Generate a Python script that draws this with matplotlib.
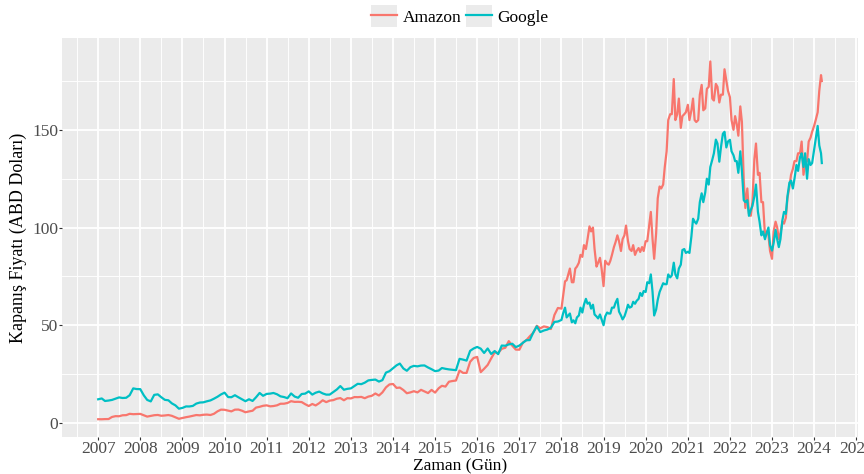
import numpy as np
import pandas as pd
import matplotlib
matplotlib.use('Agg')
import matplotlib.pyplot as plt
import matplotlib.dates as mdates
from matplotlib.legend_handler import HandlerLine2D
from matplotlib.patches import Rectangle

# tarih ekseni: 2007-2017 aylik, 2018 sonrasi ayda iki nokta
dates_monthly = pd.date_range('2007-01-01', '2017-12-01', freq='MS')
dates_semi = pd.date_range('2018-01-01', '2024-03-01', freq='SMS')
dates = dates_monthly.append(dates_semi).append(pd.DatetimeIndex(['2024-03-08']))

amazon_early = [
    1.9, 1.88, 1.96, 1.99, 3.06, 3.47, 3.42, 3.92, 3.99, 4.66, 4.47, 4.53,          # 2007
    4.63, 3.89, 3.24, 3.57, 3.94, 4.08, 3.67, 3.82, 4.04, 3.64, 2.87, 2.13,         # 2008
    2.56, 2.94, 3.24, 3.67, 4.04, 3.89, 4.18, 4.27, 4.06, 4.67, 5.94, 6.80,         # 2009
    6.73, 6.27, 5.91, 6.79, 6.85, 6.26, 5.46, 5.89, 6.24, 7.85, 8.25, 8.77,         # 2010
    9.00, 8.49, 8.64, 9.01, 9.82, 9.84, 10.22, 11.13, 10.77, 10.81, 10.67, 9.60,    # 2011
    8.66, 9.70, 8.95, 10.13, 11.60, 10.64, 11.42, 11.67, 12.40, 12.72, 11.60, 12.67,  # 2012
    12.54, 13.24, 13.19, 13.32, 12.65, 13.48, 13.88, 15.06, 14.03, 15.63, 18.20, 19.70,  # 2013
    19.94, 17.93, 18.10, 16.83, 15.20, 15.63, 16.24, 15.62, 16.94, 16.12, 15.28, 16.90,  # 2014
    15.52, 17.73, 19.01, 18.60, 21.09, 21.46, 21.70, 26.81, 25.60, 25.59, 31.29, 33.24,  # 2015
    33.79, 26.00, 27.70, 29.68, 32.98, 36.14, 35.78, 37.94, 38.46, 41.87, 39.49, 37.53,  # 2016
    37.49, 41.17, 42.25, 44.33, 46.13, 49.73, 48.40, 49.39, 49.04, 48.07, 55.26, 58.84,  # 2017
]
amazon_late = [
    58.5, 65.0, 72.5, 73.0, 76.0, 79.0, 72.0, 72.0, 79.0, 80.0, 82.0, 86.0,
    85.0, 91.0, 89.0, 94.0, 100.6, 98.0, 100.0, 89.0, 80.0, 82.0, 84.5, 79.0,       # 2018
    70.0, 83.0, 81.5, 81.0, 83.0, 86.0, 90.0, 92.5, 96.0, 93.0, 88.0, 94.0,
    96.0, 101.0, 93.0, 89.0, 88.0, 91.0, 86.0, 88.0, 89.5, 87.5, 90.0, 88.0,        # 2019
    93.0, 93.0, 101.0, 108.0, 94.0, 84.0, 97.0, 115.0, 121.0, 120.0, 122.0, 131.0,
    139.0, 155.0, 158.0, 158.0, 176.0, 155.0, 158.0, 166.0, 151.0, 157.0, 158.0, 159.0,  # 2020
    162.8, 155.0, 160.0, 166.0, 155.0, 154.0, 155.0, 168.0, 173.0, 160.0, 161.0, 171.0,
    172.0, 185.0, 166.0, 165.0, 173.5, 172.0, 164.0, 168.0, 168.0, 181.0, 175.0, 170.0,  # 2021
    166.7, 155.0, 150.0, 157.0, 153.0, 147.0, 162.0, 154.0, 124.0, 110.0, 120.0, 107.0,
    106.0, 113.0, 135.0, 143.0, 127.0, 128.0, 113.0, 113.0, 96.0, 98.0, 96.0, 88.0,    # 2022
    84.0, 98.0, 103.0, 100.0, 94.0, 97.0, 103.0, 102.0, 105.0, 115.0, 121.0, 127.0,
    130.0, 134.0, 134.0, 138.0, 138.0, 144.0, 127.0, 133.0, 134.0, 144.0, 146.0, 149.0,  # 2023
    152.0, 155.0, 159.0, 170.0, 178.0, 175.0,                                          # 2024
]

google_early = [
    12.1, 12.53, 11.23, 11.46, 11.78, 12.42, 13.06, 12.76, 12.88, 14.18, 17.68, 17.33,   # 2007
    17.29, 14.10, 11.78, 11.01, 14.35, 14.63, 13.16, 11.83, 11.58, 10.01, 8.98, 7.30,    # 2008
    7.69, 8.45, 8.42, 8.71, 9.90, 10.44, 10.54, 11.08, 11.53, 12.40, 13.41, 14.58,       # 2009
    15.50, 13.24, 13.16, 14.18, 13.13, 12.13, 11.12, 12.11, 11.25, 13.13, 15.34, 13.89,  # 2010
    14.85, 15.01, 15.33, 14.67, 13.61, 13.24, 12.66, 15.08, 13.50, 12.88, 14.81, 14.99,  # 2011
    16.15, 14.50, 15.46, 16.03, 15.11, 14.49, 14.50, 15.79, 17.13, 18.86, 17.00, 17.44,  # 2012
    17.69, 18.88, 20.02, 19.85, 20.61, 21.77, 22.01, 22.19, 21.16, 21.90, 25.77, 26.48,  # 2013
    28.02, 29.49, 30.38, 27.87, 26.70, 28.56, 29.20, 28.96, 29.36, 29.42, 28.38, 27.50,  # 2014
    26.50, 26.80, 28.10, 27.70, 27.40, 27.20, 27.00, 32.80, 32.40, 31.90, 36.90, 38.10,  # 2015
    38.90, 38.00, 35.80, 38.10, 35.30, 36.80, 35.20, 39.60, 39.50, 40.20, 40.50, 38.80,  # 2016
    39.60, 41.00, 42.30, 42.40, 46.20, 49.40, 46.50, 47.30, 47.80, 48.70, 51.70, 51.90,  # 2017
]
google_late = [
    52.7, 56.0, 59.0, 54.0, 55.0, 56.0, 51.5, 52.5, 51.0, 54.0, 55.0, 59.0,
    56.5, 60.5, 63.5, 61.0, 61.6, 58.5, 60.5, 55.5, 54.5, 53.5, 55.5, 53.0,          # 2018
    50.0, 54.5, 56.5, 56.0, 56.0, 59.0, 59.0, 61.5, 63.5, 57.0, 55.0, 53.0,
    54.5, 57.0, 60.5, 59.0, 59.5, 62.0, 61.0, 62.5, 63.5, 66.5, 65.0, 67.5,          # 2019
    67.0, 72.0, 71.5, 76.0, 67.0, 55.0, 58.0, 63.0, 67.0, 69.0, 71.5, 71.0,
    71.0, 76.0, 74.5, 75.5, 82.0, 76.0, 74.0, 79.0, 81.0, 88.5, 89.0, 87.0,          # 2020
    87.6, 87.0, 95.5, 104.5, 103.0, 102.0, 104.5, 113.0, 117.5, 113.0, 118.0, 125.0,
    122.0, 131.0, 134.7, 138.0, 145.0, 143.0, 133.7, 141.0, 148.0, 149.0, 141.0, 144.0,  # 2021
    144.9, 139.0, 137.0, 134.0, 134.0, 128.0, 139.0, 129.0, 114.0, 113.0, 114.0, 106.0,
    109.0, 111.0, 116.0, 122.0, 108.0, 103.0, 96.0, 98.0, 94.0, 97.0, 100.0, 91.0,    # 2022
    88.2, 92.0, 98.8, 94.0, 90.0, 94.0, 103.7, 108.0, 107.0, 116.0, 123.0, 124.0,
    120.0, 125.0, 132.0, 129.0, 136.0, 138.0, 131.0, 138.0, 125.0, 135.0, 132.0, 133.0,  # 2023
    139.7, 145.0, 152.0, 142.0, 138.0, 133.0,                                          # 2024
]

amazon = amazon_early + amazon_late
google = google_early + google_late

series_names = ['Amazon', 'Google']
series_colors = ['#F8766D', '#00BFC4']

plt.rcParams['font.family'] = ['Liberation Serif', 'DejaVu Serif']


class GreyKey(HandlerLine2D):
    # ggplot tarzi gri lejant kutusu
    def create_artists(self, legend, orig_handle, xdescent, ydescent,
                       width, height, fontsize, trans):
        arts = super().create_artists(legend, orig_handle, xdescent, ydescent,
                                      width, height, fontsize, trans)
        bg = Rectangle((-xdescent, -ydescent - 0.2 * height), width, height * 1.4,
                       facecolor='#EBEBEB', edgecolor='none', transform=trans)
        return [bg] + list(arts)


fig = plt.figure(figsize=(8.64, 4.74), dpi=100)
ax = fig.add_axes([62 / 864, 1 - 437 / 474, (858 - 62) / 864, (437 - 38) / 474])
ax.set_facecolor('#EBEBEB')
for s in ax.spines.values():
    s.set_visible(False)

x = mdates.date2num(dates)
lines = []
for vals, name, col in zip([amazon, google], series_names, series_colors):
    l, = ax.plot(x, vals, color=col, lw=1.6, label=name, zorder=3)
    lines.append(l)

# ggplot benzeri %5 genisleme
pad = 0.05 * (x[-1] - x[0])
ax.set_xlim(x[0] - pad, x[-1] + pad)
ax.set_ylim(-7.2, 197)

years = list(range(2007, 2026))
ax.set_xticks(mdates.date2num(pd.to_datetime([f'{y}-01-01' for y in years])))
ax.set_xticklabels([str(y) for y in years])
ax.set_xticks(mdates.date2num(pd.to_datetime([f'{y}-07-02' for y in range(2006, 2025)])), minor=True)
ax.set_yticks([0, 50, 100, 150])
ax.set_yticks([25, 75, 125, 175], minor=True)

ax.grid(which='major', color='white', lw=1.3, zorder=0)
ax.grid(which='minor', color='white', lw=0.65, zorder=0)
ax.set_axisbelow(True)
ax.tick_params(which='major', length=2.2, width=0.8, color='#333333',
               labelsize=12.5, labelcolor='#4D4D4D', pad=0.5)
ax.tick_params(which='minor', length=0)

ax.set_xlabel('Zaman (Gün)', fontsize=12.5)
ax.xaxis.set_label_coords(0.5, (437 - 470.5) / 399)
ax.xaxis.label.set_va('baseline')
ax.set_ylabel('Kapanış Fiyatı (ABD Doları)', fontsize=13, labelpad=4)

fig.legend(handles=lines, labels=series_names, loc='center',
           bbox_to_anchor=(460 / 864, 1 - 17 / 474), ncol=2, frameon=False,
           fontsize=12.5, handlelength=1.5, handleheight=1.0, handletextpad=0.3,
           columnspacing=0.3, handler_map={l: GreyKey() for l in lines})

fig.savefig('out.png', dpi=100)
